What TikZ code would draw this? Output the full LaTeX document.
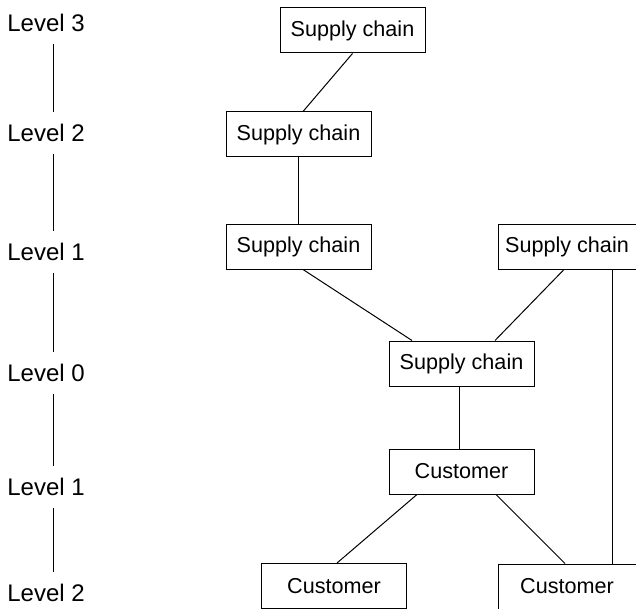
\documentclass[tikz,border=0pt]{standalone}
\usepackage{fontspec}
\setmainfont{Liberation Sans}
\usetikzlibrary{positioning}

\begin{document}
\begin{tikzpicture}[x=0.5pt, y=-0.5pt,
	chainbox/.style={draw,
		line width=0.5pt,
		minimum width=72.5pt,
		minimum height=22.5pt,
		inner sep=0pt,
		font=\fontsize{10.8}{13}\selectfont},
	levellabel/.style={anchor=west,
		inner sep=0pt,
		minimum height=20.5pt,
		font=\fontsize{12}{14}\selectfont},
	linkline/.style={line width=0.5pt}
]

\useasboundingbox (0,0) rectangle (636,609);

% Levels on the left
\node [levellabel] (lvl3) at (7,23) {Level 3};
\node [levellabel] (lvl2) at (7,133) {Level 2};
\node [levellabel] (lvl1) at (7,252) {Level 1};
\node [levellabel] (lvl0) at (7,373) {Level 0};
\node [levellabel] (lvl1c) at (7,487) {Level 1};
\node [levellabel] (lvl2c) at (7,593) {Level 2};

\coordinate (axis) at (53,0);

\draw [linkline] (lvl3.south -| axis) -- (lvl2.north -| axis);
\draw [linkline] (lvl2.south -| axis) -- (lvl1.north -| axis);
\draw [linkline] (lvl1.south -| axis) -- (lvl0.north -| axis);
\draw [linkline] (lvl0.south -| axis) -- (lvl1c.north -| axis);
\draw [linkline] (lvl1c.south -| axis) -- (lvl2c.north -| axis);

% Supply chains
\node [chainbox] (sc3) at (352.5,30.5) {
Supply chain
};
\node [chainbox] (sc2) at (298.5,134.5) {
Supply chain
};
\node [chainbox,
	below = 33pt of sc2
] (sc1) {
Supply chain
};
\node [chainbox,
	minimum width=69pt,
	right = 63pt of sc1
] (sc1r) {
Supply chain
};
\node [chainbox] (sc0) at (461.5,363.5) {
Supply chain
};

% Customers
\node [chainbox,
	below = 31pt of sc0
] (cust1) {
Customer
};
\node [chainbox] (cust2) at (334,586) {
Customer
};
\node [chainbox,
	minimum width=69pt,
	below = 147pt of sc1r
] (cust2r) {
Customer
};

% Links
\draw [linkline] (sc3.south) -- ([xshift=2.25pt] sc2.north);
\draw [linkline] (sc2.south) -- (sc1.north);
\draw [linkline] ([xshift=2.25pt] sc1.south) -- ([xshift=-24.75pt] sc0.north);
\draw [linkline] ([xshift=-1.5pt] sc1r.south) -- ([xshift=16.75pt] sc0.north);
\draw [linkline] ([xshift=22.5pt] sc1r.south) -- ([xshift=22.5pt] cust2r.north);
\draw [linkline] ([xshift=-1.25pt] sc0.south) -- ([xshift=-1.25pt] cust1.north);
\draw [linkline] ([xshift=-22.25pt] cust1.south) -- ([xshift=1.5pt] cust2.north);
\draw [linkline] ([xshift=17.25pt] cust1.south) -- ([xshift=-1pt] cust2r.north);

\end{tikzpicture}
\end{document}
